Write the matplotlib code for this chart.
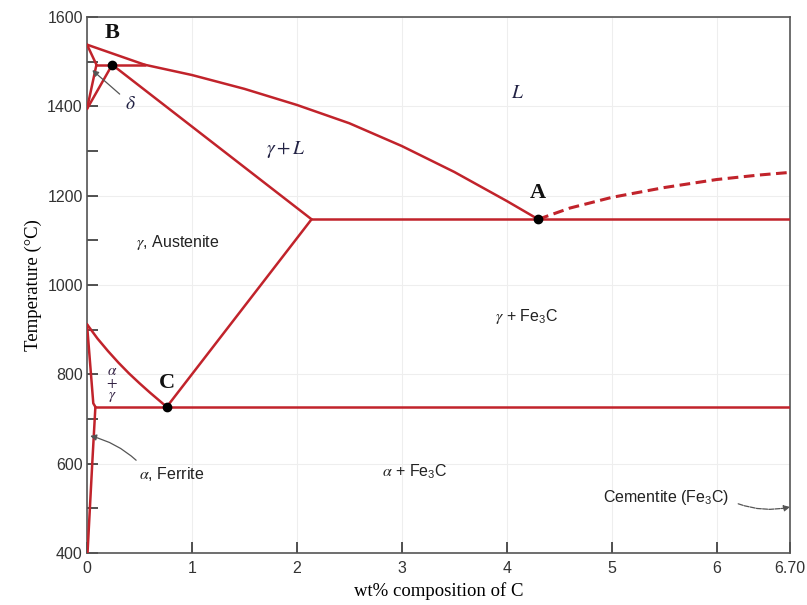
import matplotlib
matplotlib.use("Agg")
import matplotlib.pyplot as plt
from matplotlib.ticker import MultipleLocator, FixedLocator

plt.rcParams['mathtext.fontset'] = 'stix'

RED = '#c1232b'

# ---- data (wt% C, temperature degC) ----
delta_liq_x = [0.0, 0.55]
delta_liq_T = [1538, 1493]
delta_sol_x = [0.0, 0.09]
delta_sol_T = [1538, 1493]
peritectic_x = [0.09, 0.55]
peritectic_T = [1493, 1493]
delta_gamma1_x = [0.0, 0.09]
delta_gamma1_T = [1394, 1493]
delta_gamma2_x = [0.0, 0.24]
delta_gamma2_T = [1394, 1493]
liquidus_x = [0.55, 1.0, 1.5, 2.0, 2.5, 3.0, 3.5, 4.0, 4.30]
liquidus_T = [1493, 1470, 1439, 1403, 1362, 1311, 1253, 1188, 1147]
solidus_x = [0.24, 2.14]
solidus_T = [1493, 1147]
eutectic_x = [2.14, 6.70]
eutectic_T = [1147, 1147]
cem_liq_x = [4.30, 4.6, 5.0, 5.5, 6.0, 6.4, 6.70]
cem_liq_T = [1147, 1172, 1196, 1218, 1236, 1246, 1252]
acm_x = [2.14, 0.76]
acm_T = [1147, 727]
a3_x = [0.0, 0.1, 0.2, 0.3, 0.4, 0.5, 0.6, 0.7, 0.76]
a3_T = [912, 880, 852, 826, 802, 780, 759, 739, 727]
alpha_x = [0.0, 0.06, 0.08]
alpha_T = [912, 735, 727]
solvus_x = [0.08, 0.05, 0.005]
solvus_T = [727, 600, 400]
eutectoid_x = [0.08, 6.70]
eutectoid_T = [727, 727]
points_x = [0.24, 4.30, 0.76]
points_T = [1493, 1147, 727]
point_names = ['B', 'A', 'C']

x_ticks = [0, 1, 2, 3, 4, 5, 6, 6.70]
x_ticklabels = ['0', '1', '2', '3', '4', '5', '6', '6.70']
y_ticks = [400, 600, 800, 1000, 1200, 1400, 1600]

fig = plt.figure(figsize=(8.07, 6.05), dpi=100)
ax = fig.add_axes([0.1078, 0.086, 0.8712, 0.886])

lw = 1.8
for xs, ts in [(delta_liq_x, delta_liq_T), (delta_sol_x, delta_sol_T),
               (peritectic_x, peritectic_T), (delta_gamma1_x, delta_gamma1_T),
               (delta_gamma2_x, delta_gamma2_T), (liquidus_x, liquidus_T),
               (solidus_x, solidus_T), (eutectic_x, eutectic_T),
               (acm_x, acm_T), (a3_x, a3_T), (alpha_x, alpha_T),
               (solvus_x, solvus_T), (eutectoid_x, eutectoid_T)]:
    ax.plot(xs, ts, color=RED, lw=lw, solid_capstyle='round',
            solid_joinstyle='round', zorder=3)

ax.plot(cem_liq_x, cem_liq_T, color=RED, lw=2.2, dashes=(3.5, 1.8), zorder=3)
ax.plot(points_x, points_T, 'o', color='black', ms=6, zorder=4)

ax.set_xlim(0, 6.70)
ax.set_ylim(400, 1600)
ax.xaxis.set_major_locator(FixedLocator(x_ticks))
ax.set_xticklabels(x_ticklabels)
ax.set_yticks(y_ticks)
ax.yaxis.set_minor_locator(MultipleLocator(100))
ax.tick_params(axis='both', which='both', direction='in', length=8, width=1.1,
               colors='#222222', labelcolor='#333333', labelsize=11.5)
ax.tick_params(axis='x', pad=6)
ax.tick_params(axis='y', pad=3)
for lab in ax.get_xticklabels() + ax.get_yticklabels():
    lab.set_family(['Liberation Sans Narrow', 'Liberation Sans', 'DejaVu Sans'])
ax.grid(True, which='major', color='#eeeeee', lw=0.8, zorder=0)
for s in ax.spines.values():
    s.set_color('#555555')
    s.set_linewidth(1.2)

ax.set_ylabel('Temperature (°C)', family='Liberation Serif', fontsize=13.5, labelpad=4)
ax.set_xlabel('wt% composition of C', family='Liberation Serif', fontsize=13.5, labelpad=4)

serif = 'Liberation Serif'
sans = ['Liberation Sans', 'DejaVu Sans']
# point labels
offs = {'B': 70, 'A': 58, 'C': 54}
for px, pt, nm in zip(points_x, points_T, point_names):
    ax.text(px, pt + offs[nm], nm, family=serif,
            fontweight='bold', fontsize=16, ha='center', va='center', color='#111111')

ax.text(4.10, 1430, '$L$', fontsize=14, ha='center', va='center', color='#222244')
ax.text(1.90, 1304, r'$\gamma + L$', fontsize=14, ha='center', va='center', color='#222244')
ax.text(0.86, 1094, r'$\gamma$, Austenite', family=sans, fontsize=11.5,
        ha='center', va='center', color='#222222')
ax.text(4.19, 930, r'$\gamma$ + Fe$\mathregular{_3}$C', family=sans, fontsize=11.5,
        ha='center', va='center', color='#222222')
ax.text(3.12, 581, r'$\alpha$ + Fe$\mathregular{_3}$C', family=sans, fontsize=11.5,
        ha='center', va='center', color='#222222')
ax.text(0.24, 780, '$\\alpha$\n$+$\n$\\gamma$', fontsize=11, ha='center', va='center',
        color='#332244', linespacing=0.75)

arrow = dict(arrowstyle='-|>', color='#555555', lw=0.9, mutation_scale=9,
             shrinkA=2, shrinkB=0)
ax.annotate(r'$\delta$', xy=(0.05, 1481), xytext=(0.41, 1407), fontsize=14,
            color='#222244', ha='center', va='center',
            arrowprops=dict(arrow, connectionstyle='arc3,rad=0.0'))
ax.annotate(r'$\alpha$, Ferrite', xy=(0.03, 662), xytext=(0.81, 577),
            family=sans, fontsize=11.5, color='#222222', ha='center', va='center',
            arrowprops=dict(arrow, connectionstyle='arc3,rad=0.15',
                            relpos=(0.05, 0.9)))
ax.annotate(r'Cementite (Fe$\mathregular{_3}$C)', xy=(6.70, 503), xytext=(5.52, 525),
            family=sans, fontsize=11.5, color='#222222', ha='center', va='center',
            arrowprops=dict(arrow, connectionstyle='arc3,rad=0.15',
                            relpos=(1.05, 0.2), linestyle=(0, (4, 1))))

fig.savefig('out.png', dpi=100)
